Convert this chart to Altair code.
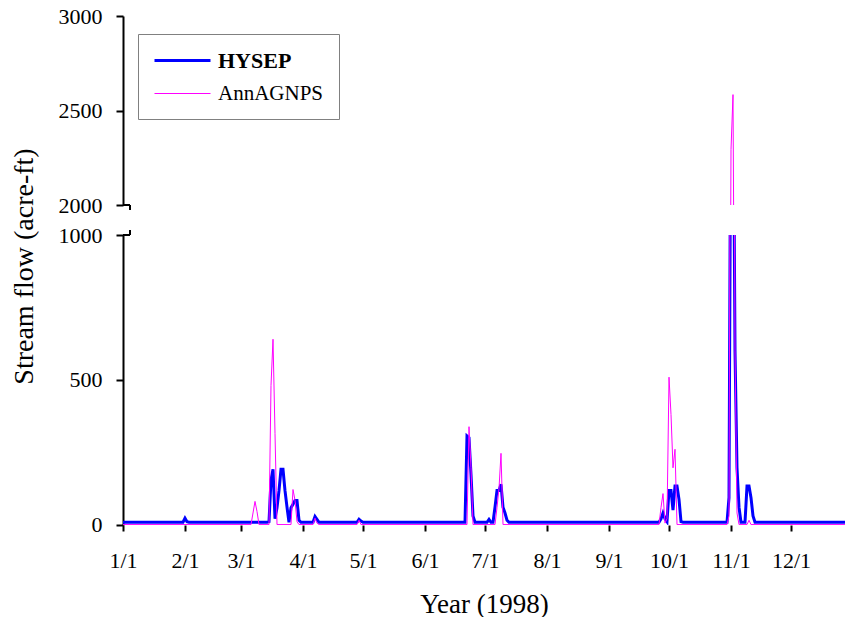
import altair as alt
import pandas as pd

# ---- values (daily stream flow, acre-ft, 1998) ----
series_names = ["HYSEP", "AnnAGNPS"]
series_colors = ["#0000FF", "#FF00FF"]
series_widths = [3, 1]

hysep_dates = [
    "1998-01-01", "1998-01-31", "1998-02-01", "1998-02-02", "1998-02-03",
    "1998-03-14", "1998-03-15", "1998-03-16", "1998-03-17", "1998-03-18",
    "1998-03-19", "1998-03-20", "1998-03-21", "1998-03-22", "1998-03-23",
    "1998-03-24", "1998-03-25", "1998-03-26", "1998-03-27", "1998-03-28",
    "1998-03-29", "1998-03-30", "1998-03-31",
    "1998-04-06", "1998-04-07", "1998-04-08", "1998-04-09",
    "1998-04-28", "1998-04-29", "1998-04-30", "1998-05-01",
    "1998-06-21", "1998-06-22", "1998-06-23", "1998-06-24", "1998-06-25", "1998-06-26",
    "1998-07-02", "1998-07-03", "1998-07-04",
    "1998-07-05", "1998-07-06", "1998-07-07", "1998-07-08", "1998-07-09",
    "1998-07-10", "1998-07-11", "1998-07-12", "1998-07-13",
    "1998-09-26", "1998-09-27", "1998-09-28", "1998-09-29", "1998-09-30",
    "1998-10-01", "1998-10-02", "1998-10-03", "1998-10-04", "1998-10-05",
    "1998-10-06", "1998-10-07", "1998-10-08",
    "1998-10-30", "1998-10-31", "1998-11-01", "1998-11-02", "1998-11-03",
    "1998-11-04", "1998-11-05", "1998-11-06",
    "1998-11-08", "1998-11-09", "1998-11-10", "1998-11-11", "1998-11-12", "1998-11-13",
    "1998-12-28",
]
hysep_values = [
    8, 8, 22, 10, 8,
    8, 10, 153, 191, 20,
    58, 117, 191, 191, 117,
    60, 8, 58, 70, 83,
    83, 15, 8,
    8, 28, 18, 8,
    8, 18, 12, 8,
    8, 306, 300, 173, 30, 8,
    8, 18, 8,
    8, 60, 118, 118, 139,
    60, 40, 15, 8,
    8, 20, 40, 20, 10,
    118, 118, 50, 133, 133,
    87, 10, 8,
    8, 93, 1700, 1700, 600,
    196, 60, 8,
    8, 133, 133, 93, 30, 8,
    8,
]

agnps_dates = [
    "1998-01-01",
    "1998-03-06", "1998-03-07", "1998-03-08", "1998-03-09", "1998-03-10",
    "1998-03-15", "1998-03-16", "1998-03-17", "1998-03-18", "1998-03-19",
    "1998-03-26", "1998-03-27", "1998-03-28", "1998-03-29", "1998-03-30",
    "1998-04-06", "1998-04-07", "1998-04-08", "1998-04-09",
    "1998-04-28", "1998-04-29", "1998-04-30",
    "1998-06-22", "1998-06-23", "1998-06-24", "1998-06-25",
    "1998-07-06", "1998-07-07", "1998-07-08", "1998-07-09", "1998-07-10",
    "1998-09-26", "1998-09-27", "1998-09-28", "1998-09-29", "1998-09-30",
    "1998-10-01", "1998-10-02", "1998-10-03", "1998-10-04", "1998-10-05",
    "1998-10-30", "1998-10-31", "1998-11-01", "1998-11-02", "1998-11-03",
    "1998-11-04", "1998-11-05",
    "1998-11-09", "1998-11-10", "1998-11-11",
    "1998-12-28",
]
agnps_values = [
    0,
    0, 40, 80, 45, 0,
    0, 480, 640, 315, 0,
    0, 121, 84, 10, 0,
    0, 22, 5, 0,
    0, 15, 0,
    0, 338, 197, 0,
    0, 59, 125, 246, 0,
    0, 59, 107, 5, 20,
    509, 380, 196, 260, 0,
    0, 30, 2293, 2584, 600,
    40, 0,
    0, 15, 0,
    0,
]

month_ticks = [0, 31, 59, 90, 120, 151, 181, 212, 243, 273, 304, 334]
month_labels = ["1/1", "2/1", "3/1", "4/1", "5/1", "6/1",
                "7/1", "8/1", "9/1", "10/1", "11/1", "12/1"]
upper_ticks = [2000, 2500, 3000]
lower_ticks = [0, 500, 1000]

FONT = "Liberation Serif"
start = pd.Timestamp("1998-01-01")
UPPER_H = 189
LOWER_H = 290


def to_day(dates):
    return [(pd.Timestamp(d) - start).days for d in dates]


df = pd.concat([
    pd.DataFrame({"day": to_day(hysep_dates), "flow": hysep_values, "series": "HYSEP"}),
    pd.DataFrame({"day": to_day(agnps_dates), "flow": agnps_values, "series": "AnnAGNPS"}),
], ignore_index=True)

label_expr = (
    "[" + ",".join("'%s'" % s for s in month_labels) + "]"
    + "[indexof([" + ",".join(str(t) for t in month_ticks) + "], datum.value)]"
)

x_axis = alt.Axis(
    values=month_ticks, labelExpr=label_expr, grid=False,
    domain=False, ticks=True, tickColor="black", tickWidth=2, tickSize=6,
    labelFont=FONT, labelFontSize=22, labelColor="black", labelPadding=19,
    labelFlush=False, labelOverlap=False,
    title="Year (1998)", titleFont=FONT, titleFontSize=27,
    titleFontWeight="normal", titleColor="black", titlePadding=20,
)

legend = alt.Legend(
    title=None, orient="none", legendX=15, legendY=18,
    symbolType="M-2.8,0H2.8", symbolSize=400, symbolOffset=18,
    labelFont=FONT, labelColor="black", labelOffset=24,
    labelFontWeight={"expr": "datum.label === 'HYSEP' ? 'bold' : 'normal'"},
    labelFontSize={"expr": "datum.label === 'HYSEP' ? 22 : 21"},
    padding=15, rowPadding=10, strokeColor="#808080", fillColor="white",
)


def break_hook(edge_y, tip_y):
    # small axis-break hook drawn just right of the y axis where the scale is cut
    base = (alt.Chart(df).transform_filter(alt.datum.series == "HYSEP")
            .transform_aggregate(n="count()"))
    flat = base.mark_rule(color="black", strokeWidth=2).encode(
        x=alt.value(0), x2=alt.value(7), y=alt.value(edge_y),
    )
    drop = base.mark_rule(color="black", strokeWidth=2).encode(
        x=alt.value(7), y=alt.value(edge_y), y2=alt.value(tip_y),
    )
    return [flat, drop]


def panel(domain, height, ticks, show_x, show_legend, ytitle, hook):
    y_axis_kw = dict(
        values=ticks, format="d", grid=False, domainColor="black", domainWidth=2,
        tickColor="black", tickWidth=2, tickSize=7,
        labelFont=FONT, labelFontSize=22, labelColor="black", labelPadding=14,
    )
    if ytitle:
        y_axis_kw.update(title=ytitle, titleFont=FONT, titleFontSize=28,
                         titleFontWeight="normal", titleColor="black",
                         titlePadding=20, titleY=31)
    else:
        y_axis_kw.update(title=None)
    x = alt.X("day:Q", scale=alt.Scale(domain=[0, 361], nice=False, zero=False),
              axis=x_axis if show_x else None)
    y = alt.Y("flow:Q", scale=alt.Scale(domain=domain, nice=False, zero=False),
              axis=alt.Axis(**y_axis_kw))
    color = alt.Color("series:N", scale=alt.Scale(domain=series_names, range=series_colors),
                      legend=legend if show_legend else None)
    width = alt.StrokeWidth("series:N", scale=alt.Scale(domain=series_names, range=series_widths),
                            legend=legend if show_legend else None)
    layers = [
        alt.Chart(df).transform_filter(alt.datum.series == s)
        .mark_line(clip=True)
        .encode(x=x, y=y, color=color, strokeWidth=width)
        for s in series_names
    ]
    return alt.layer(*layers, *break_hook(*hook)).properties(width=722, height=height)


upper = panel([2000, 3000], UPPER_H, upper_ticks, False, True, None, (UPPER_H, UPPER_H + 5))
lower = panel([-1.5, 1000], LOWER_H, lower_ticks, True, False, "Stream flow (acre-ft)", (0, -5))

chart = (
    alt.vconcat(upper, lower, spacing=30, bounds="flush")
    .resolve_scale(color="independent", strokeWidth="independent", x="shared")
    .properties(padding={"left": 10, "top": 5, "right": 0, "bottom": 0},
                background="white")
    .configure_view(stroke="transparent", strokeWidth=0)
    .configure_axis(grid=False)
)

chart.save("out.html", embed_options={"renderer": "svg", "actions": False})
